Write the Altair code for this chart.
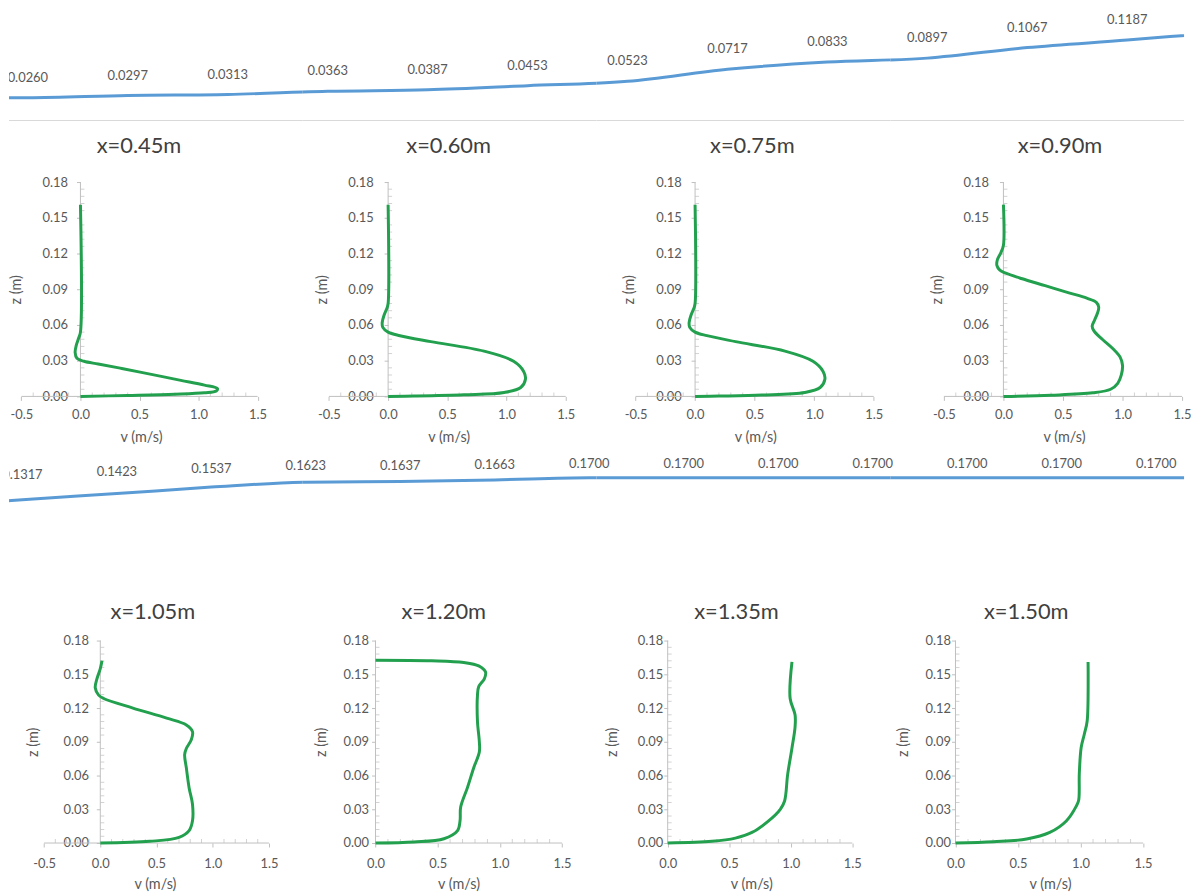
import altair as alt
import pandas as pd

# ---------------- data ----------------
# water-surface series shown in the two blue strips (in order, left to right)
surface_values = [0.0260, 0.0297, 0.0313, 0.0363, 0.0387, 0.0453, 0.0523,
                  0.0717, 0.0833, 0.0897, 0.1067, 0.1187,
                  0.1317, 0.1423, 0.1537, 0.1623, 0.1637, 0.1663,
                  0.1700, 0.1700, 0.1700, 0.1700, 0.1700, 0.1700, 0.1700]
surface_edge_before = 0.0255   # line runs on past the left edge (no label visible)
surface_edge_after = 0.1700    # line runs on past the right edge (no label visible)
STRIP_SPLIT = 12               # first value of the second strip

profile_titles = ["x=0.45m", "x=0.60m", "x=0.75m", "x=0.90m",
                  "x=1.05m", "x=1.20m", "x=1.35m", "x=1.50m"]

v_045 = [0.00, 0.40, 0.80, 1.05, 1.15, 1.16, 1.05, 0.85, 0.60, 0.35, 0.15, 0.03,
         -0.03, -0.045, -0.035, -0.015, 0.00, 0.00]
z_045 = [0.000, 0.0008, 0.0018, 0.0030, 0.0045, 0.0065, 0.0095, 0.0135, 0.0185,
         0.0235, 0.0272, 0.0295, 0.0320, 0.0370, 0.0430, 0.0490, 0.0540, 0.1610]

v_060 = [0.00, 0.22, 0.64, 0.98, 1.12, 1.16, 1.145, 1.06, 0.81, 0.36, 0.10, 0.00,
         -0.045, -0.05, -0.035, -0.01, 0.00, 0.00]
z_060 = [0.000, 0.0003, 0.0014, 0.0033, 0.0075, 0.0144, 0.0210, 0.0295, 0.0380,
         0.0460, 0.0510, 0.0540, 0.0580, 0.0620, 0.0680, 0.0740, 0.0780, 0.1610]

v_075 = [0.00, 0.20, 0.56, 0.92, 1.05, 1.09, 1.075, 0.99, 0.755, 0.34, 0.10, 0.00,
         -0.045, -0.05, -0.035, -0.01, 0.00, 0.00]
z_075 = [0.000, 0.0003, 0.0011, 0.0033, 0.0075, 0.0144, 0.0210, 0.0295, 0.0380,
         0.0460, 0.0510, 0.0540, 0.0580, 0.0620, 0.0680, 0.0740, 0.0780, 0.1610]

v_090 = [0.00, 0.40, 0.75, 0.90, 0.96, 0.99, 1.00, 0.98, 0.92, 0.83, 0.76, 0.745,
         0.765, 0.79, 0.80, 0.78, 0.70, 0.55, 0.35, 0.15, 0.02, -0.03, -0.055,
         -0.05, -0.02, 0.00, 0.00]
z_090 = [0.000, 0.0010, 0.0030, 0.0060, 0.0110, 0.0180, 0.0260, 0.0330, 0.0400,
         0.0480, 0.0550, 0.0590, 0.0640, 0.0700, 0.0750, 0.0790, 0.0825, 0.0870,
         0.0930, 0.0990, 0.1035, 0.1060, 0.1100, 0.1150, 0.1210, 0.1270, 0.1610]

v_105 = [0.00, 0.44, 0.70, 0.79, 0.82, 0.82, 0.79, 0.765, 0.75, 0.765, 0.81, 0.82,
         0.765, 0.59, 0.29, 0.03, -0.015, -0.045, -0.03, 0.00, 0.015]
z_105 = [0.000, 0.0015, 0.0050, 0.0110, 0.0197, 0.0344, 0.0490, 0.0670, 0.0785,
         0.0840, 0.0920, 0.0990, 0.1050, 0.1110, 0.1200, 0.1285, 0.1315, 0.1380,
         0.1460, 0.1550, 0.1620]

v_120 = [0.00, 0.31, 0.55, 0.66, 0.68, 0.685, 0.74, 0.79, 0.835, 0.835, 0.82, 0.82,
         0.83, 0.875, 0.885, 0.83, 0.71, 0.45, 0.00]
z_120 = [0.000, 0.0009, 0.0038, 0.0110, 0.0200, 0.0320, 0.0495, 0.0670, 0.0810,
         0.0900, 0.1080, 0.1315, 0.1390, 0.1460, 0.1520, 0.1575, 0.1605, 0.1620,
         0.1625]

v_135 = [0.00, 0.36, 0.55, 0.685, 0.82, 0.915, 0.95, 0.975, 1.01, 1.035, 1.035,
         0.995, 1.01]
z_135 = [0.000, 0.0015, 0.0044, 0.0094, 0.0197, 0.0300, 0.0374, 0.0610, 0.0845,
         0.1030, 0.1140, 0.1285, 0.1610]

v_150 = [0.00, 0.304, 0.569, 0.754, 0.886, 0.966, 0.985, 0.99, 1.005, 1.03, 1.053,
         1.06]
z_150 = [0.000, 0.0012, 0.0035, 0.0094, 0.0196, 0.0328, 0.0380, 0.0616, 0.0850,
         0.0967, 0.1085, 0.1610]

profiles_v = [v_045, v_060, v_075, v_090, v_105, v_120, v_135, v_150]
profiles_z = [z_045, z_060, z_075, z_090, z_105, z_120, z_135, z_150]

x_major_full = [-0.5, 0.0, 0.5, 1.0, 1.5]
x_major_pos = [0.0, 0.5, 1.0, 1.5]
y_major = [0.00, 0.03, 0.06, 0.09, 0.12, 0.15, 0.18]

# ---------------- styling / layout ----------------
FONT = "Lato"
TXT = "#595959"
TITLE_TXT = "#404040"
AX = "#BFBFBF"
GREEN = "#22A04E"
BLUE = "#5B9BD5"
CELL_W = 296
ORIGIN = 8
ROW_TOP = [8, 180, 396, 642]
ROW_H = [172, 216, 246, 204]

n = len(surface_values)
surface_df = pd.DataFrame({
    "i": list(range(-1, n + 1)),
    "v": [surface_edge_before] + surface_values + [surface_edge_after],
    "lab": [False] + [True] * n + [False],
})
surface_df["j"] = surface_df["i"] - STRIP_SPLIT
label_df = surface_df[surface_df["lab"]].reset_index(drop=True)


def strip_cell(k, field, x0, dx, line_y, label_y, row, label_dy, sep_y=None):
    """line_y / label_y: (page y of anchor, value at anchor, px per unit)."""
    cl = ORIGIN + CELL_W * k
    top, height = ROW_TOP[row], ROW_H[row]
    xd = [(cl - x0) / dx, (cl + CELL_W - x0) / dx]

    def ydom(spec):
        ya, va, ppu = spec
        return [va - (top + height - ya) / ppu, va + (ya - top) / ppu]

    X = alt.X(f"{field}:Q", scale=alt.Scale(domain=xd, nice=False, zero=False), axis=None)
    Y = alt.Y("v:Q", scale=alt.Scale(domain=ydom(line_y), nice=False, zero=False), axis=None)
    YL = alt.Y("v:Q", scale=alt.Scale(domain=ydom(label_y), nice=False, zero=False), axis=None)

    # labels whose centre lies inside this cell
    px = x0 + dx * label_df[field]
    sub = label_df[(px >= cl) & (px < cl + CELL_W)]

    line = alt.Chart(surface_df).mark_line(
        color=BLUE, strokeWidth=3, interpolate="monotone", clip=True
    ).encode(x=X, y=Y)
    text = alt.Chart(sub).mark_text(
        font=FONT, fontSize=13, color=TXT, dy=label_dy, baseline="middle", clip=(k == 0)
    ).encode(x=X, y=YL, text=alt.Text("v:Q", format=".4f"))
    layers = [line, text]
    if sep_y is not None:
        sep = alt.Chart(pd.DataFrame({"s": [0]})).mark_rule(
            color="#D9D9D9", strokeWidth=1
        ).encode(x=alt.value(0), x2=alt.value(CELL_W), y=alt.value(sep_y - top))
        layers.insert(0, sep)
    return alt.layer(*layers).resolve_scale(y="independent").properties(
        width=CELL_W, height=height)


# per panel: (page x of v=0, px per unit v, axis min, title centre, x-title centre,
#             y-title dx, y-label gap, x-label pad, x-title dy, title offset)
panel_specs = [
    (80.0, 119.0, -0.5, 139, 141.0, -64, 13, 8, 41, 8),
    (390.0, 119.3, -0.5, 451, 451.0, -66, 15, 8, 41, 8),
    (699.3, 120.0, -0.5, 757, 760.0, -66, 14, 8, 41, 8),
    (1010.0, 120.0, -0.5, 1067, 1071.0, -66, 15, 8, 41, 8),
    (100.0, 113.3, -0.5, 153, 155.0, -67, 12, 11, 42, 1),
    (377.3, 125.3, 0.0, 446, 461.0, -54, 7, 11, 42, 1),
    (671.7, 124.0, 0.0, 741, 756.0, -56, 5, 11, 42, 1),
    (961.7, 126.0, 0.0, 1033, 1057.0, -52, 5, 11, 42, 1),
]


def panel_cell(p):
    k = p % 4
    row = 1 if p < 4 else 3
    a, b, xmin, t_cx, xt_cx, yt_dx, ygap, xpad, xt_dy, t_off = panel_specs[p]
    cl = ORIGIN + CELL_W * k
    height = ROW_H[row]
    xd = [(cl - a) / b, (cl + CELL_W - a) / b]
    px0 = a - cl
    xs = alt.Scale(domain=xd, nice=False, zero=False)
    ys = alt.Scale(domain=[0, 0.18], nice=False, zero=False)
    xvals = x_major_full if xmin < 0 else x_major_pos

    df = pd.DataFrame({"v": profiles_v[p], "z": profiles_z[p],
                       "i": list(range(len(profiles_v[p])))})

    x_axis = alt.Axis(values=xvals, domain=False, tickSize=4, labelPadding=xpad,
                      labelFlush=False,
                      labelExpr="replace(format(datum.value, '.1f'), '\u2212', '-')",
                      title="v (m/s)", titleX=xt_cx - cl, titleY=xt_dy,
                      titleBaseline="middle", grid=False)
    y_axis = alt.Axis(values=y_major, format=".2f", domain=False, tickSize=4,
                      labelPadding=ygap - 4, offset=-px0, title="z (m)",
                      titleX=yt_dx, titleBaseline="middle", grid=False)

    def X(f):
        return alt.X(f, scale=xs, axis=x_axis)

    def Y(f):
        return alt.Y(f, scale=ys, axis=y_axis)

    minor_x = [round(xmin + 0.1 * i, 2) for i in range(int(round((1.5 - xmin) / 0.1)) + 1)]
    minor_x = [m for m in minor_x if abs(m * 2 - round(m * 2)) > 1e-6]
    minor_y = [round(0.006 * i, 3) for i in range(31)]
    minor_y = [m for m in minor_y if abs(m / 0.03 - round(m / 0.03)) > 1e-6]

    x_line = alt.Chart(pd.DataFrame({"v": [xmin], "v2": [1.5], "z": [0.0]})).mark_rule(
        color=AX, strokeWidth=1
    ).encode(x=X("v:Q"), x2="v2:Q", y=Y("z:Q"))
    y_line = alt.Chart(pd.DataFrame({"z": [0.0], "z2": [0.18], "v": [0.0]})).mark_rule(
        color=AX, strokeWidth=1
    ).encode(x=X("v:Q"), y=Y("z:Q"), y2="z2:Q")
    x_minor = alt.Chart(pd.DataFrame({"v": minor_x, "z": [0.0] * len(minor_x)})).mark_tick(
        orient="vertical", size=4, thickness=1, yOffset=-2, color=AX
    ).encode(x=X("v:Q"), y=Y("z:Q"))
    y_minor = alt.Chart(pd.DataFrame({"z": minor_y, "v": [0.0] * len(minor_y)})).mark_tick(
        orient="horizontal", size=4, thickness=1, xOffset=2, color=AX
    ).encode(x=X("v:Q"), y=Y("z:Q"))

    curve = alt.Chart(df).mark_line(
        color=GREEN, strokeWidth=3, interpolate="catmull-rom"
    ).encode(x=X("v:Q"), y=Y("z:Q"), order="i:Q")

    title = alt.TitleParams(profile_titles[p], font=FONT, fontSize=22, fontWeight="normal",
                            color=TITLE_TXT, anchor="middle", frame="group",
                            baseline="middle", offset=t_off, dx=t_cx - (cl + CELL_W / 2))
    return alt.layer(x_line, y_line, x_minor, y_minor, curve).properties(
        width=CELL_W, height=height, title=title)


cells = []
for k in range(4):
    cells.append(strip_cell(k, "i", 27.0, 100.7, (95.0, 0.0260, 626.0), (95.0, 0.0260, 626.0),
                            0, -20, sep_y=118))
for p in range(4):
    cells.append(panel_cell(p))
for k in range(4):
    cells.append(strip_cell(k, "j", 21.5, 95.2, (478.0, 0.1700, 575.0), (464.0, 0.1700, 290.0),
                            2, 0))
for p in range(4, 8):
    cells.append(panel_cell(p))

chart = alt.concat(*cells, columns=4, spacing=0, bounds="flush").properties(
    padding=0
).configure_view(stroke=None).configure_axis(
    labelFont=FONT, labelFontSize=13, labelColor=TXT,
    titleFont=FONT, titleFontSize=14.5, titleFontWeight="normal", titleColor=TXT,
    tickColor=AX,
).configure_title(font=FONT)

chart.save("out.html", embed_options={"renderer": "svg", "actions": False})
